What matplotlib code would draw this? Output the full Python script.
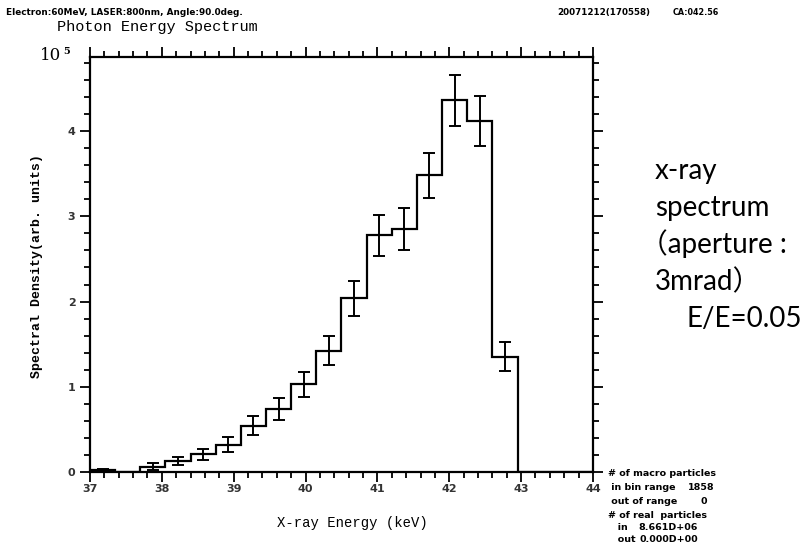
import numpy as np
import matplotlib
matplotlib.use("Agg")
import matplotlib.pyplot as plt
from matplotlib.ticker import MultipleLocator

# ヒストグラムのビン (37-44 keV を 20 分割)
bin_edges = np.linspace(37.0, 44.0, 21)

# スペクトル密度 (x 10^5)
spectral_density = [0.02, 0.0, 0.06, 0.13, 0.21, 0.32, 0.545, 0.74, 1.03, 1.42,
                    2.04, 2.78, 2.85, 3.48, 4.36, 4.12, 1.35, 0.0, 0.0, 0.0]

# 誤差
spectral_error = [0.01, 0.0, 0.04, 0.05, 0.065, 0.085, 0.11, 0.125, 0.145, 0.17,
                  0.205, 0.24, 0.245, 0.265, 0.30, 0.29, 0.17, 0.0, 0.0, 0.0]

x_ticks = [37, 38, 39, 40, 41, 42, 43, 44]
y_ticks = [0, 1, 2, 3, 4]

# 右下の統計情報 (左側の文字列, 右寄せの数値, 数値の右端 px)
info_lines = [("# of macro particles", "", 0),
              (" in bin range", "1858", 715),
              (" out of range", "0", 707),
              ("# of real  particles", "", 0),
              ("   in", "8.661D+06", 698),
              ("   out", "0.000D+00", 698)]

note_lines = ["x-ray", "spectrum", "（aperture :", "3mrad）", "E/E=0.05"]
note_x = [0.8137, 0.8137, 0.795, 0.8137, 0.853]

MONO = "Liberation Mono"
NARROW = "Liberation Sans Narrow"

fig = plt.figure(figsize=(8.05, 5.48), dpi=100)
ax = fig.add_axes([0.1118, 0.1387, 0.6248, 0.7573])

# ヒストグラム本体
ax.stairs(spectral_density, bin_edges, color="black", linewidth=1.6)

# 誤差棒
centers = (bin_edges[:-1] + bin_edges[1:]) / 2
for c, v, e in zip(centers, spectral_density, spectral_error):
    if v > 0:
        ax.errorbar(c, v, yerr=e, fmt="none", ecolor="black",
                    elinewidth=1.4, capsize=4.5, capthick=1.4)

ax.set_xlim(37, 44)
ax.set_ylim(0, 4.87)
ax.xaxis.set_minor_locator(MultipleLocator(0.2))
ax.yaxis.set_minor_locator(MultipleLocator(0.2))
ax.set_xticks(x_ticks)
ax.set_yticks(y_ticks)

for s in ax.spines.values():
    s.set_linewidth(1.6)

ax.tick_params(which="both", direction="out", top=True, right=True,
               width=1.3, labelsize=8)
ax.tick_params(which="major", length=7)
ax.tick_params(which="minor", length=4)
ax.tick_params(axis="x", which="major", pad=2)
for lab in ax.get_xticklabels() + ax.get_yticklabels():
    lab.set_fontweight("bold")
    lab.set_color("#333333")

ax.set_xlabel("X-ray Energy (keV)", family=MONO, fontsize=10)
ax.set_ylabel("Spectral Density(arb. units)", family=MONO, fontsize=9.5,
              fontweight="bold")
ax.xaxis.set_label_coords(0.521, -0.106)
ax.yaxis.set_label_coords(-0.093, 0.496)

# 上部テキスト
fig.text(0.007, 0.972, "Electron:60MeV, LASER:800nm, Angle:90.0deg.",
         fontsize=6.4, fontweight="bold", family=NARROW)
fig.text(0.071, 0.944, "Photon Energy Spectrum", family=MONO, fontsize=11)
fig.text(0.692, 0.972, "20071212(170558)", fontsize=6.3, fontweight="bold",
         family=NARROW)
fig.text(0.836, 0.972, "CA:042.56", fontsize=5.8, fontweight="bold",
         family=NARROW)
fig.text(51 / 805, 1 - 56 / 548, "10", fontsize=12, family="DejaVu Serif",
         ha="center", va="center")
fig.text(67 / 805, 1 - 52 / 548, "5", fontsize=7, fontweight="bold",
         family="DejaVu Serif", ha="center", va="center")

# 右下の統計情報
info_y = [474, 487, 501, 515, 528, 540]
for (left, right, rx), y in zip(info_lines, info_y):
    fig.text(0.755, 1 - y / 548, left, fontsize=6.8, fontweight="bold",
             family=NARROW, va="center")
    if right:
        fig.text(rx / 805, 1 - y / 548, right, fontsize=6.8, fontweight="bold",
                 family=NARROW, va="center", ha="right")

# 右側の注釈
for i, (line, x) in enumerate(zip(note_lines, note_x)):
    fig.text(x, 1 - (179 + i * 37) / 548, line, fontsize=20,
             family=["Lato", "Noto Sans CJK JP"], va="baseline")

fig.savefig("out.png", dpi=100)
